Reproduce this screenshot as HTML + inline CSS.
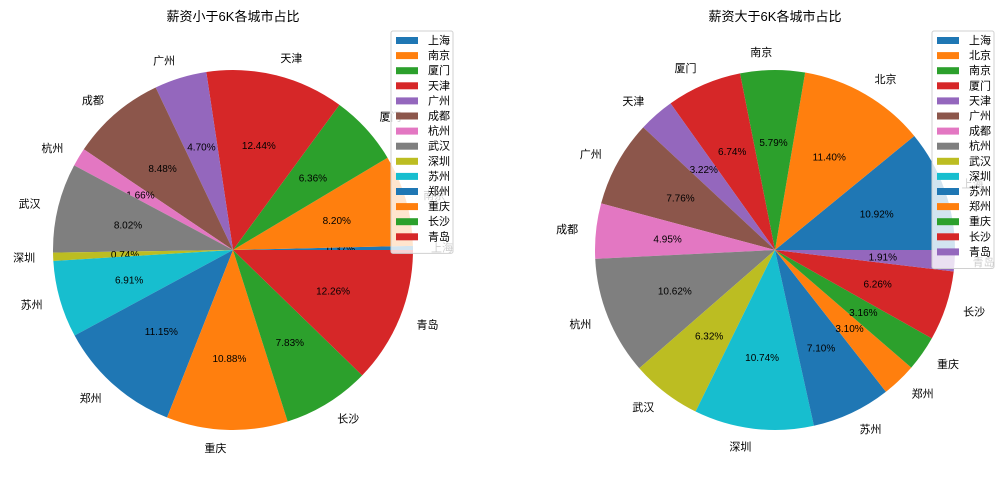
<!DOCTYPE html>
<html><head><meta charset="utf-8"><style>
body{margin:0;background:#fff}
svg text{font-family:"Liberation Sans","Noto Sans CJK SC",sans-serif}
</style></head><body>
<svg id="c" width="1008" height="484" xmlns="http://www.w3.org/2000/svg"></svg>
<script>
const leftCities=["上海","南京","厦门","天津","广州","成都","杭州","武汉","深圳","苏州","郑州","重庆","长沙","青岛"];
const leftValues=[0.37,8.20,6.36,12.44,4.70,8.48,1.66,8.02,0.74,6.91,11.15,10.88,7.83,12.26];
const rightCities=["上海","北京","南京","厦门","天津","广州","成都","杭州","武汉","深圳","苏州","郑州","重庆","长沙","青岛"];
const rightValues=[10.92,11.40,5.79,6.74,3.22,7.76,4.95,10.62,6.32,10.74,7.10,3.10,3.16,6.26,1.91];
const colors=["#1f77b4","#ff7f0e","#2ca02c","#d62728","#9467bd","#8c564b","#e377c2","#7f7f7f","#bcbd22","#17becf"];
const svg=document.getElementById('c');
const NS="http://www.w3.org/2000/svg";
function mk(t,a,p){const e=document.createElementNS(NS,t);for(const k in a)e.setAttribute(k,a[k]);(p||svg).appendChild(e);return e;}
function pie(cats,vals,cx,cy,r,title,lx,prefix){
  const g=mk('g',{});
  
  
  const t=mk('text',{x:cx,y:21,'text-anchor':'middle','font-size':13},g);
  t.textContent=title;
  
  
  const tot=vals.reduce((a,b)=>a+b,0);
  let a0=0;
  vals.forEach((v,i)=>{
    const a1=a0+v/tot*2*Math.PI;
    const x0=cx+r*Math.cos(a0),y0=cy-r*Math.sin(a0),x1=cx+r*Math.cos(a1),y1=cy-r*Math.sin(a1);
    const large=(a1-a0)>Math.PI?1:0;
    const p=mk('path',{d:`M${cx},${cy}L${x0},${y0}A${r},${r} 0 ${large} 0 ${x1},${y1}Z`,fill:colors[i%10]},g);
    
    
    const am=(a0+a1)/2,c=Math.cos(am),s=Math.sin(am);
    const lb=mk('text',{x:cx+1.1*r*c,y:cy-1.1*r*s+4,'text-anchor':c>=0?'start':'end','font-size':11},g);
    lb.textContent=cats[i];
    
    
    const pc=mk('text',{x:cx+0.6*r*c,y:cy-0.6*r*s+4,'text-anchor':'middle','font-size':10},g);
    pc.textContent=(v/tot*100).toFixed(2)+'%';
    
    
    a0=a1;
  });
  const lg=mk('g',{},g);
  
  
  const h=cats.length*15.1+11;
  mk('rect',{x:lx,y:31,width:62,height:h,rx:2,fill:'rgba(255,255,255,0.8)',stroke:'#d0d0d0'},lg);
  cats.forEach((n,i)=>{
    const y=40+i*15.1;
    const sw=mk('rect',{x:lx+5,y:y-3,width:22,height:7,fill:colors[i%10]},lg);
    
    
    const tx=mk('text',{x:lx+37,y:y+4,'font-size':11},lg);
    tx.textContent=n;
    
    
  });
}
pie(leftCities,leftValues,233,250,180,"薪资小于6K各城市占比",391,'left');
pie(rightCities,rightValues,775,250,180,"薪资大于6K各城市占比",932,'right');
</script>
</body></html>
